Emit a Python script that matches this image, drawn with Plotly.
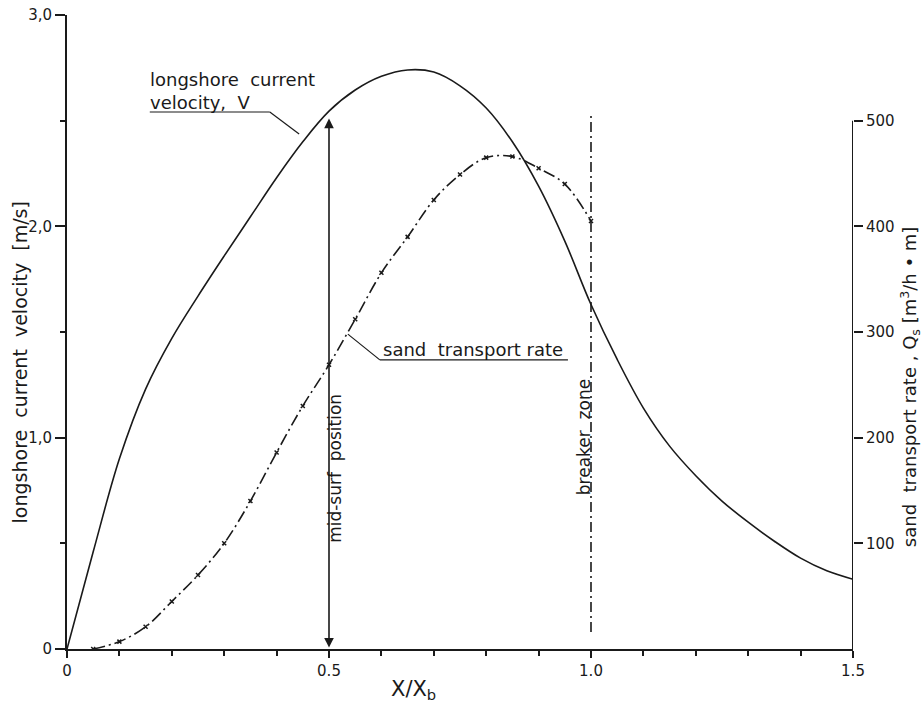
import plotly.graph_objects as go

# ---- data ----
x_vel = [0, 0.05, 0.1, 0.15, 0.2, 0.25, 0.3, 0.35, 0.4, 0.45, 0.5, 0.55, 0.6, 0.65,
         0.7, 0.75, 0.8, 0.85, 0.9, 0.95, 1.0, 1.05, 1.1, 1.15, 1.2, 1.25, 1.3, 1.35,
         1.4, 1.45, 1.5]
velocity = [0, 0.46, 0.90, 1.23, 1.47, 1.67, 1.86, 2.045, 2.23, 2.40, 2.545, 2.645, 2.71,
            2.74, 2.73, 2.665, 2.56, 2.40, 2.19, 1.93, 1.63, 1.37, 1.14, 0.96, 0.82,
            0.70, 0.60, 0.51, 0.43, 0.37, 0.33]

x_sand = [0.05, 0.1, 0.15, 0.2, 0.25, 0.3, 0.35, 0.4, 0.45, 0.5, 0.55, 0.6, 0.65, 0.7,
          0.75, 0.8, 0.85, 0.9, 0.95, 1.0]
sand_rate = [0, 7, 21, 45, 70, 100, 140, 186, 230, 269, 312, 356, 390, 425, 449, 465,
             466, 455, 440, 405]

x_tickvals = [0, 0.5, 1.0, 1.5]
x_ticktext = ["0", "0.5", "1.0", "1.5"]
y_tickvals = [0, 1, 2, 3]
y_ticktext = ["0", "1,0", "2,0", "3,0"]
y2_tickvals = [100, 200, 300, 400, 500]
y2_ticktext = ["100", "200", "300", "400", "500"]

mid_surf_x = 0.5
breaker_x = 1.0

FONT = "DejaVu Sans"
INK = "#1a1a1a"

fig = go.Figure()

fig.add_trace(go.Scatter(
    x=x_vel, y=velocity, mode="lines", line=dict(color=INK, width=1.6, shape="spline"),
    showlegend=False, hoverinfo="skip"))

fig.add_trace(go.Scatter(
    x=x_sand, y=sand_rate, yaxis="y2", mode="lines+markers",
    line=dict(color=INK, width=1.6, dash="12px,4px,2px,4px", shape="spline"),
    marker=dict(symbol="x-thin", size=4, line=dict(width=1.5, color=INK)),
    showlegend=False, hoverinfo="skip"))

shapes = []
# right axis line (only up to 500)
shapes.append(dict(type="line", xref="x", yref="y2", x0=1.5, x1=1.5, y0=0, y1=500,
                   line=dict(color=INK, width=2)))
# breaker zone line
shapes.append(dict(type="line", xref="x", yref="y", x0=breaker_x, x1=breaker_x,
                   y0=0.08, y1=2.53, line=dict(color=INK, width=1.6, dash="10px,4px,2px,4px")))
# leader lines for labels
shapes.append(dict(type="line", xref="x", yref="y", x0=0.158, x1=0.387, y0=2.541, y1=2.541,
                   line=dict(color=INK, width=1.2)))
shapes.append(dict(type="line", xref="x", yref="y", x0=0.387, x1=0.443, y0=2.541, y1=2.437,
                   line=dict(color=INK, width=1.2)))
shapes.append(dict(type="line", xref="x", yref="y", x0=0.597, x1=0.956, y0=1.368, y1=1.368,
                   line=dict(color=INK, width=1.2)))
shapes.append(dict(type="line", xref="x", yref="y", x0=0.597, x1=0.536, y0=1.368, y1=1.49,
                   line=dict(color=INK, width=1.2)))

annotations = []
# mid-surf arrow (double headed)
annotations.append(dict(x=mid_surf_x, y=2.51, ax=mid_surf_x, ay=0.0, xref="x", yref="y",
                        axref="x", ayref="y", showarrow=True, arrowhead=2, arrowside="end+start",
                        arrowsize=1.2, arrowwidth=1.6, arrowcolor=INK, text=""))
annotations.append(dict(x=0.511, y=0.856, xref="x", yref="y", xanchor="center", yanchor="middle",
                        text="mid-surf  position", textangle=-90, showarrow=False,
                        font=dict(family=FONT, size=17, color=INK)))
annotations.append(dict(x=0.987, y=1.003, xref="x", yref="y", xanchor="center", yanchor="middle",
                        text="breaker  zone", textangle=-90, showarrow=False,
                        font=dict(family=FONT, size=17, color=INK)))
annotations.append(dict(x=0.155, y=2.64, xref="x", yref="y", xanchor="left", yanchor="middle",
                        text="longshore  current<br>velocity,  V", align="left",
                        showarrow=False, font=dict(family=FONT, size=18, color=INK)))
annotations.append(dict(x=0.60, y=1.415, xref="x", yref="y", xanchor="left", yanchor="middle",
                        text="sand  transport rate", showarrow=False,
                        font=dict(family=FONT, size=18, color=INK)))
# axis titles
annotations.append(dict(x=-0.0598, y=0.452, xref="paper", yref="paper", xanchor="center",
                        yanchor="middle", text="longshore  current  velocity  [m/s]",
                        textangle=-90, showarrow=False, font=dict(family=FONT, size=19, color=INK)))
annotations.append(dict(x=1.0725, y=0.413, xref="paper", yref="paper", xanchor="center",
                        yanchor="middle",
                        text="sand  transport rate , Q<sub>s</sub> [m<sup>3</sup>/h • m]",
                        textangle=-90, showarrow=False, font=dict(family=FONT, size=18, color=INK)))
annotations.append(dict(x=0.441, y=-0.0647, xref="paper", yref="paper", xanchor="center",
                        yanchor="middle", text="X/X<sub>b</sub>", showarrow=False,
                        font=dict(family=FONT, size=21, color=INK)))

fig.update_layout(
    width=923, height=707,
    margin=dict(l=67, r=70, t=15, b=58, autoexpand=False),
    plot_bgcolor="white", paper_bgcolor="white",
    font=dict(family=FONT, size=15, color=INK),
    shapes=shapes, annotations=annotations,
    xaxis=dict(range=[0, 1.5], showgrid=False, zeroline=False, showline=True, automargin=False,
               linecolor=INK, linewidth=2, ticks="outside", ticklen=7, tickwidth=1.5,
               tickcolor=INK, tickvals=x_tickvals, ticktext=x_ticktext,
               minor=dict(dtick=0.1, tick0=0, ticks="outside", ticklen=5, tickwidth=1.5,
                          tickcolor=INK, showgrid=False),
               tickfont=dict(family=FONT, size=15, color=INK)),
    yaxis=dict(range=[0, 3], showgrid=False, zeroline=False, showline=True, automargin=False,
               linecolor=INK, linewidth=2, ticks="outside", ticklen=10, tickwidth=1.5,
               tickcolor=INK, tickvals=y_tickvals, ticktext=y_ticktext,
               minor=dict(dtick=0.5, tick0=0, ticks="outside", ticklen=5, tickwidth=1.5,
                          tickcolor=INK, showgrid=False),
               tickfont=dict(family=FONT, size=15, color=INK)),
    yaxis2=dict(range=[0, 600], overlaying="y", side="right", showgrid=False, automargin=False,
                zeroline=False, showline=False, ticks="outside", ticklen=9, tickwidth=1.5,
                tickcolor=INK, tickvals=y2_tickvals, ticktext=y2_ticktext,
                tickfont=dict(family=FONT, size=15, color=INK)),
)

fig.write_html("out.html", config={"displayModeBar": False},
               post_script="document.body.style.margin='0px';")
